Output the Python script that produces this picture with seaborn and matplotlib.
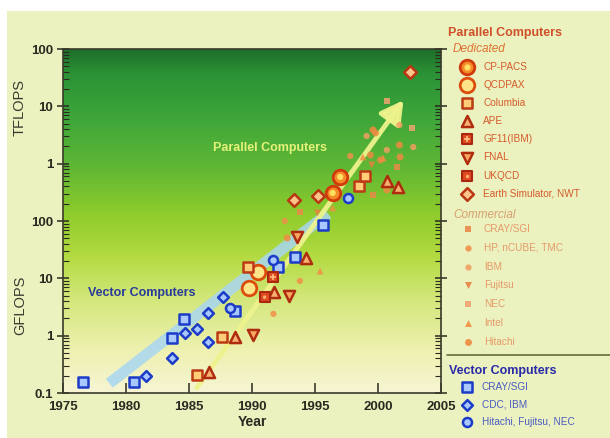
import numpy as np
import matplotlib
matplotlib.use("Agg")
import matplotlib.pyplot as plt
import seaborn as sns
from matplotlib.colors import LinearSegmentedColormap
from matplotlib.patches import Rectangle, FancyArrowPatch
from matplotlib.ticker import LogLocator, NullFormatter

sns.set_theme(style="ticks")
plt.rcParams['font.family'] = ['Liberation Sans', 'DejaVu Sans']

# ---------------- data (performance in GFLOPS) ----------------
x_ticks = [1975, 1980, 1985, 1990, 1995, 2000, 2005]
y_ticks = [0.1, 1, 10, 100, 1000, 10000, 100000]
y_tick_labels = ['0.1', '1', '10', '100', '1', '10', '100']

# Vector computers
vec_cray_year = [1976.6, 1980.6, 1983.65, 1984.6, 1988.65, 1992.1, 1993.4, 1995.6]
vec_cray_perf = [0.156, 0.156, 0.91, 1.95, 2.7, 15.8, 23.6, 85]
vec_cdc_year = [1981.6, 1983.65, 1984.7, 1985.6, 1986.5, 1986.5, 1987.7]
vec_cdc_perf = [0.198, 0.41, 1.11, 1.31, 2.48, 0.78, 4.7]
vec_jp_year = [1988.25, 1991.7, 1997.6]
vec_jp_perf = [3.0, 20.9, 252]

# Dedicated parallel computers
cppacs_year = [1996.4, 1997.0]
cppacs_perf = [308, 587]
qcdpax_year = [1989.8, 1990.5]
qcdpax_perf = [6.8, 12.9]
columbia_year = [1985.6, 1987.6, 1989.7, 1998.5, 1999.0]
columbia_perf = [0.206, 0.95, 15.8, 408, 610]
ape_year = [1986.6, 1988.65, 1991.75, 1994.3, 2000.7, 2001.6]
ape_perf = [0.23, 0.95, 5.8, 22.6, 499, 392]
gf11_year = [1991.7]
gf11_perf = [10.5]
fnal_year = [1990.1, 1992.9, 1993.6]
fnal_perf = [1.03, 4.9, 52.6]
ukqcd_year = [1991.0]
ukqcd_perf = [4.7]
es_year = [1993.3, 1995.2, 2002.5]
es_perf = [232, 273, 39700]

# Commercial parallel computers
c_cray_year = [1993.8, 1999.6, 2001.5]
c_cray_perf = [144, 284, 875]
c_hp_year = [1991.7, 1992.6, 1993.8, 1997.8]
c_hp_perf = [2.4, 100, 9.0, 1360]
c_ibm_year = [1999.1, 2000.7, 2001.7, 2002.8]
c_ibm_perf = [3040, 1730, 4730, 1950]
c_fujitsu_year = [1995.2, 1999.5]
c_fujitsu_perf = [138, 948]
c_nec_year = [2000.7, 2002.7]
c_nec_perf = [12400, 4190]
c_intel_year = [1995.4, 1996.4, 1998.8, 2000.4]
c_intel_perf = [13.4, 169, 1309, 1260]
c_hitachi_year = [1999.6, 2000.7, 2001.75, 1999.4, 2000.2, 1999.8, 1992.8, 2001.7]
c_hitachi_perf = [3870, 348, 1310, 1416, 1160, 3430, 50.6, 2120]

# ---------------- marker styles ----------------
VEC_EDGE, VEC_FACE = '#1c3cc8', '#a8c8ff'
styles_dedicated = {
    'CP-PACS': dict(marker='o', ms=10.5, face='#f58a28', edge='#d03a0c', lw=2.0, inner=('o', 4.5, '#ffe060')),
    'QCDPAX': dict(marker='o', ms=10.5, face='#ffe58a', edge='#dc4c0c', lw=2.0, inner=None),
    'Columbia': dict(marker='s', ms=7, face='#ffcc78', edge='#bc3a16', lw=1.8, inner=None),
    'APE': dict(marker='^', ms=8, face='#f8b070', edge='#b02c10', lw=1.8, inner=None),
    'GF11 (IBM)': dict(marker='s', ms=7, face='#e04a20', edge='#a82810', lw=1.5, inner=('+', 4, '#ffc080')),
    'FNAL': dict(marker='v', ms=8, face='#f8a85e', edge='#b02c10', lw=1.8, inner=None),
    'UKQCD': dict(marker='s', ms=7, face='#e04a20', edge='#a82810', lw=1.5, inner=('o', 2.5, '#ffb070')),
    'Earth Simulator, NWT': dict(marker='D', ms=6.5, face='#ffc48a', edge='#b83612', lw=1.8, inner=None),
}
dedicated_data = {
    'CP-PACS': (cppacs_year, cppacs_perf),
    'QCDPAX': (qcdpax_year, qcdpax_perf),
    'Columbia': (columbia_year, columbia_perf),
    'APE': (ape_year, ape_perf),
    'GF11 (IBM)': (gf11_year, gf11_perf),
    'FNAL': (fnal_year, fnal_perf),
    'UKQCD': (ukqcd_year, ukqcd_perf),
    'Earth Simulator, NWT': (es_year, es_perf),
}
styles_commercial = {
    'CRAY/SGI': dict(marker='s', ms=4.2, face='#e98a4a'),
    'HP, nCUBE, TMC': dict(marker='o', ms=4.5, face='#f09048'),
    'IBM': dict(marker='o', ms=4.5, face='#f2a062'),
    'Fujitsu': dict(marker='v', ms=5, face='#e88040'),
    'NEC': dict(marker='s', ms=4.0, face='#f0a470'),
    'Intel': dict(marker='^', ms=5, face='#f09040'),
    'Hitachi': dict(marker='o', ms=5, face='#f08a40'),
}
commercial_data = {
    'CRAY/SGI': (c_cray_year, c_cray_perf),
    'HP, nCUBE, TMC': (c_hp_year, c_hp_perf),
    'IBM': (c_ibm_year, c_ibm_perf),
    'Fujitsu': (c_fujitsu_year, c_fujitsu_perf),
    'NEC': (c_nec_year, c_nec_perf),
    'Intel': (c_intel_year, c_intel_perf),
    'Hitachi': (c_hitachi_year, c_hitachi_perf),
}
styles_vector = {
    'CRAY/SGI': dict(marker='s', ms=6.5),
    'CDC, IBM': dict(marker='D', ms=5.5),
    'Hitachi, Fujitsu, NEC': dict(marker='o', ms=6.5),
}
vector_data = {
    'CRAY/SGI': (vec_cray_year, vec_cray_perf),
    'CDC, IBM': (vec_cdc_year, vec_cdc_perf),
    'Hitachi, Fujitsu, NEC': (vec_jp_year, vec_jp_perf),
}

# ---------------- figure ----------------
W, H = 610, 438
fig = plt.figure(figsize=(W / 100, H / 100), dpi=100, facecolor='white')
fig.patches.append(Rectangle((7 / W, 0), 1, 1 - 11 / H, transform=fig.transFigure,
                             facecolor='#ebf2c0', edgecolor='none', zorder=-10))

rect = [63 / W, 45 / H, 378 / W, 344 / H]

# gradient backdrop of the plotting area
bg = fig.add_axes(rect, zorder=0)
bg_cmap = LinearSegmentedColormap.from_list('bg', [
    (0.00, '#f6f5d4'), (0.12, '#eef1b0'), (0.27, '#d4e77c'), (0.40, '#b2da40'),
    (0.52, '#8fcc2c'), (0.65, '#62b834'), (0.80, '#3ea63a'), (0.93, '#2c9236'),
    (1.00, '#1e6e2a')])
bg.imshow(np.linspace(0, 1, 256).reshape(-1, 1), aspect='auto', cmap=bg_cmap,
          origin='lower', extent=[0, 1, 0, 1])
bg.axis('off')

ax = fig.add_axes(rect, zorder=1)
ax.patch.set_alpha(0)
ax.set_yscale('log')
ax.set_xlim(1975, 2005)
ax.set_ylim(0.1, 1e5)

# trend arrows
vec_band = FancyArrowPatch((1978.5, 0.138), (1996.2, 144), arrowstyle='-',
                           color='#a8d6f2', lw=8, alpha=0.85, zorder=2,
                           capstyle='butt')
ax.add_patch(vec_band)
par_arrow = FancyArrowPatch((1985.5, 0.113), (2002.15, 14000),
                            arrowstyle='-|>,head_length=9,head_width=5',
                            color='#eef38c', lw=3.5, alpha=0.95, zorder=2,
                            mutation_scale=1.5)
ax.add_patch(par_arrow)

# commercial parallel machines
for name, (yrs, perf) in commercial_data.items():
    st = styles_commercial[name]
    sns.scatterplot(x=yrs, y=perf, marker=st['marker'], s=st['ms'] ** 2,
                    color=st['face'], edgecolor='none', linewidth=0,
                    alpha=0.85, ax=ax, zorder=3, legend=False)

# vector machines
for name, (yrs, perf) in vector_data.items():
    st = styles_vector[name]
    sns.scatterplot(x=yrs, y=perf, marker=st['marker'], s=st['ms'] ** 2,
                    color=VEC_FACE, edgecolor=VEC_EDGE, linewidth=1.8,
                    ax=ax, zorder=4, legend=False)

# dedicated parallel machines
for name, (yrs, perf) in dedicated_data.items():
    st = styles_dedicated[name]
    sns.scatterplot(x=yrs, y=perf, marker=st['marker'], s=st['ms'] ** 2,
                    color=st['face'], edgecolor=st['edge'], linewidth=st['lw'],
                    ax=ax, zorder=5, legend=False)
    if st['inner'] is not None:
        m, s, c = st['inner']
        sns.scatterplot(x=yrs, y=perf, marker=m, s=s ** 2, color=c,
                        edgecolor=c if m == '+' else 'none',
                        linewidth=1.2 if m == '+' else 0,
                        ax=ax, zorder=6, legend=False)

ax.text(0.209, 0.291, 'Vector Computers', transform=ax.transAxes, ha='center',
        va='center', color='#2a3a9c', fontsize=9, fontweight='bold', zorder=7)
ax.text(0.548, 0.712, 'Parallel Computers', transform=ax.transAxes, ha='center',
        va='center', color='#e6f27a', fontsize=9, fontweight='bold', zorder=7)

# axes and ticks
ax.set_xticks(x_ticks)
ax.set_xticklabels([str(t) for t in x_ticks])
ax.set_yticks(y_ticks)
ax.set_yticklabels(y_tick_labels)
ax.yaxis.set_minor_locator(LogLocator(base=10, subs=np.arange(2, 10)))
ax.yaxis.set_minor_formatter(NullFormatter())
ax.tick_params(axis='y', which='major', direction='inout', length=8, width=1.1,
               left=True, right=True, labelsize=9.5, colors='#2a2a20', pad=3)
ax.tick_params(axis='y', which='minor', direction='in', length=4, width=0.8,
               left=True, right=True, colors='#2a2a20')
ax.tick_params(axis='x', which='major', direction='in', length=7, width=1.1,
               labelsize=9.5, colors='#2a2a20', pad=6)
for lbl in ax.get_xticklabels() + ax.get_yticklabels():
    lbl.set_fontweight('bold')
for sp in ax.spines.values():
    sp.set_color('#3a3a2a')
    sp.set_linewidth(1.2)
ax.set_xlabel('Year', fontsize=10, fontweight='bold', color='#2a2a20', labelpad=1)

fig.text(20 / W, 1 - 107 / H, 'TFLOPS', rotation=90, ha='center', va='center',
         fontsize=10.5, color='#3a3a30')
fig.text(20 / W, 1 - 305 / H, 'GFLOPS', rotation=90, ha='center', va='center',
         fontsize=10.5, color='#3a3a30')

# ---------------- legend panel ----------------
leg = fig.add_axes([0, 0, 1, 1], zorder=8)
leg.set_xlim(0, W)
leg.set_ylim(H, 0)
leg.axis('off')
leg.patch.set_alpha(0)

leg.text(448, 33, 'Parallel Computers', color='#d0502a', fontsize=9,
         fontweight='bold', va='center', ha='left')
leg.text(453, 49, 'Dedicated', color='#e07030', fontsize=8.5, style='italic',
         va='center', ha='left')
for i, name in enumerate(dedicated_data):
    y = 67 + i * 18.1
    st = styles_dedicated[name]
    leg.scatter([467], [y], marker=st['marker'], s=st['ms'] ** 2, color=st['face'],
                edgecolors=st['edge'], linewidths=st['lw'])
    if st['inner'] is not None:
        m, s, c = st['inner']
        leg.scatter([467], [y], marker=m, s=s ** 2, color=c,
                    linewidths=1.2 if m == '+' else 0)
    leg.text(483, y, name.replace(' (', '('), color='#d65a2a', fontsize=7.2,
             va='center', ha='left')

leg.text(453, 215, 'Commercial', color='#d8a070', fontsize=8.5, style='italic',
         va='center', ha='left')
for i, name in enumerate(commercial_data):
    y = 229 + i * 18.8
    st = styles_commercial[name]
    leg.scatter([468], [y], marker=st['marker'], s=st['ms'] ** 2,
                color=st['face'], linewidths=0, alpha=0.9)
    leg.text(484, y, name, color='#e59a68', fontsize=7.2, va='center', ha='left')

leg.plot([447, 610], [355, 355], color='#6a6a3a', lw=1.2)
leg.text(449, 371, 'Vector Computers', color='#2a2aa8', fontsize=9,
         fontweight='bold', va='center', ha='left')
for i, name in enumerate(vector_data):
    y = 387 + i * 17.5
    st = styles_vector[name]
    leg.scatter([467], [y], marker=st['marker'], s=st['ms'] ** 2, color=VEC_FACE,
                edgecolors=VEC_EDGE, linewidths=1.8)
    leg.text(482, y, name, color='#4a5ac0', fontsize=7.2, va='center', ha='left')

fig.savefig('out.png', dpi=100, facecolor='white')
